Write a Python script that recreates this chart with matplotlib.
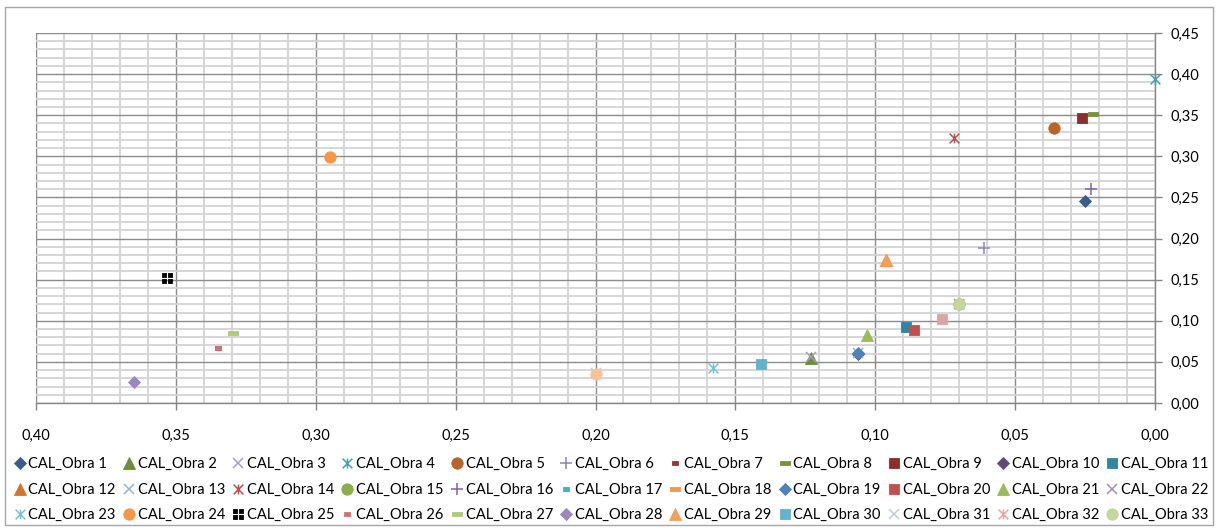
import matplotlib
matplotlib.use("Agg")
import matplotlib.pyplot as plt
from matplotlib.path import Path
from matplotlib.patches import Rectangle
from matplotlib.ticker import MultipleLocator, FuncFormatter

plt.rcParams['font.family'] = ['Lato', 'DejaVu Sans']

# ---- data -------------------------------------------------------------
series_names = [f"CAL_Obra {i}" for i in range(1, 36)]

x_values = [
    [0.025], [0.123], [0.123], [0.000], [0.036], [0.061], [0.335], [0.022],
    [0.026], [0.106], [0.089], [0.096], [0.106], [0.072], [0.070], [0.023],
    [0.141], [0.295], [0.106], [0.086], [0.103], [0.070], [0.158], [0.295],
    [0.353], [0.335], [0.3295], [0.365], [0.096], [0.141], [0.200], [0.070],
    [0.070], [0.076], [0.200],
]
y_values = [
    [0.246], [0.055], [0.056], [0.394], [0.334], [0.188], [0.067], [0.352],
    [0.347], [0.059], [0.093], [0.174], [0.061], [0.322], [0.121], [0.260],
    [0.047], [0.299], [0.061], [0.089], [0.083], [0.121], [0.042], [0.299],
    [0.152], [0.067], [0.085], [0.025], [0.174], [0.047], [0.036], [0.121],
    [0.121], [0.102], [0.035],
]

# number of series listed in the legend, laid out row by row
legend_count = 33
legend_cols = 11

x_ticks = [0.40, 0.35, 0.30, 0.25, 0.20, 0.15, 0.10, 0.05, 0.00]
y_ticks = [0.00, 0.05, 0.10, 0.15, 0.20, 0.25, 0.30, 0.35, 0.40, 0.45]

# ---- marker shapes ----------------------------------------------------
star = Path([(-1, -1), (1, 1), (-1, 1), (1, -1), (0, -1), (0, 1)],
            [Path.MOVETO, Path.LINETO, Path.MOVETO, Path.LINETO, Path.MOVETO, Path.LINETO])
short_dash = Path([(-1, -0.55), (1, -0.55), (1, 0.55), (-1, 0.55), (-1, -0.55)],
                  [Path.MOVETO, Path.LINETO, Path.LINETO, Path.LINETO, Path.CLOSEPOLY])
long_dash = Path([(-1, -0.3), (1, -0.3), (1, 0.3), (-1, 0.3), (-1, -0.3)],
                 [Path.MOVETO, Path.LINETO, Path.LINETO, Path.LINETO, Path.CLOSEPOLY])


def _quad_square():
    verts, codes = [], []
    g = 0.12
    for (x0, y0) in [(-1, -1), (g, -1), (-1, g), (g, g)]:
        w = 1 - g
        verts += [(x0, y0), (x0 + w, y0), (x0 + w, y0 + w), (x0, y0 + w), (x0, y0)]
        codes += [Path.MOVETO, Path.LINETO, Path.LINETO, Path.LINETO, Path.CLOSEPOLY]
    return Path(verts, codes)


quad_square = _quad_square()

# style per series: (marker, size, colour, filled)
styles = [
    ('D', 5.8, '#385D8A', True),      # 1
    ('^', 8.5, '#6E8B3D', True),      # 2
    ('x', 7.0, '#A99BC2', False),     # 3
    (star, 7.0, '#4A9EB5', False),    # 4
    ('o', 8.2, '#B7652A', True),      # 5
    ('+', 9.0, '#8F86B8', False),     # 6
    (short_dash, 4.0, '#943634', True),  # 7
    (long_dash, 7.5, '#77933C', True),   # 8
    ('s', 7.5, '#8B2E2E', True),      # 9
    ('D', 5.8, '#604A7B', True),      # 10
    ('s', 7.5, '#31859C', True),      # 11
    ('^', 8.5, '#D2752E', True),      # 12
    ('x', 7.0, '#95B3D7', False),     # 13
    (star, 7.0, '#C0504D', False),    # 14
    ('o', 8.2, '#8AAE4A', True),      # 15
    ('+', 9.0, '#7D64A6', False),     # 16
    (short_dash, 4.0, '#4BACC6', True),  # 17
    (long_dash, 7.5, '#F79646', True),   # 18
    ('D', 5.8, '#4F81BD', True),      # 19
    ('s', 7.5, '#C0504D', True),      # 20
    ('^', 8.5, '#9BBB59', True),      # 21
    ('x', 7.0, '#A08DC0', False),     # 22
    (star, 7.0, '#78C2D6', False),    # 23
    ('o', 8.2, '#F79646', True),      # 24
    (quad_square, 7.2, '#000000', True),  # 25
    (short_dash, 4.0, '#D4716E', True),   # 26
    (long_dash, 7.5, '#AECB7A', True),    # 27
    ('D', 5.8, '#9A86C0', True),      # 28
    ('^', 8.5, '#F99D5C', True),      # 29
    ('s', 7.5, '#62B4CE', True),      # 30
    ('x', 7.0, '#B9CDE5', False),     # 31
    (star, 7.0, '#E6A8A6', False),    # 32
    ('o', 8.2, '#C3D69B', True),      # 33
    ('s', 7.5, '#DBA5A4', True),      # 34
    ('o', 8.2, '#FAC09A', True),      # 35
]

# ---- figure -------------------------------------------------------------
W, H = 1220, 529
fig = plt.figure(figsize=(W / 100, H / 100), dpi=100)
fig.patch.set_facecolor('white')
fig.patches.append(Rectangle((5 / W, 1 - 525 / H), (1213 - 5) / W, (525 - 7) / H,
                             transform=fig.transFigure, fill=False,
                             ec='#A6A6A6', lw=1.0))

ax = fig.add_axes([36 / W, 1 - 403 / H, (1155 - 36) / W, (403 - 33) / H])
ax.set_xlim(0.40, 0.0)
ax.set_ylim(0.0, 0.45)

ax.xaxis.set_minor_locator(MultipleLocator(0.01))
ax.yaxis.set_minor_locator(MultipleLocator(0.01))
ax.set_xticks(x_ticks)
ax.set_yticks(y_ticks)
fmt = FuncFormatter(lambda v, p: f"{v:.2f}".replace('.', ','))
ax.xaxis.set_major_formatter(fmt)
ax.yaxis.set_major_formatter(fmt)

ax.yaxis.tick_right()
ax.tick_params(axis='x', which='major', direction='out', length=5, width=1,
               color='#868686', labelsize=10.5, pad=14, labelcolor='#000000')
ax.tick_params(axis='y', which='major', direction='out', length=5, width=1,
               color='#868686', labelsize=10.5, pad=6, labelcolor='#000000')
ax.tick_params(which='minor', length=0)

for side in ('top', 'left'):
    ax.spines[side].set_visible(False)
for side in ('right', 'bottom'):
    ax.spines[side].set_color('#868686')
    ax.spines[side].set_linewidth(1.0)

ax.grid(which='minor', color='#D3D3D3', lw=1.3, zorder=0)
ax.grid(which='major', color='#8C8C8C', lw=1.0, zorder=0)
ax.set_axisbelow(True)

handles = []
for i, name in enumerate(series_names):
    marker, ms, color, filled = styles[i]
    if filled:
        h, = ax.plot(x_values[i], y_values[i], ls='none', marker=marker, ms=ms,
                     mfc=color, mec=color, mew=0.6, label=name, clip_on=False,
                     zorder=3 + i * 0.01)
    else:
        h, = ax.plot(x_values[i], y_values[i], ls='none', marker=marker, ms=ms,
                     color=color, mew=1.1, label=name, clip_on=False,
                     zorder=3 + i * 0.01)
    handles.append(h)

# legend fills columns first, so reorder to read across rows
rows = legend_count // legend_cols
order = [r * legend_cols + c for c in range(legend_cols) for r in range(rows)]
leg = fig.legend([handles[k] for k in order], [series_names[k] for k in order],
                 loc='upper left', bbox_to_anchor=(13 / W, 1 - 457 / H),
                 ncol=legend_cols, frameon=False, fontsize=10.5, handlelength=0.9,
                 handletextpad=0.15, columnspacing=0.45, labelspacing=0.8,
                 borderpad=0, borderaxespad=0)

fig.savefig('out.png', dpi=100)
